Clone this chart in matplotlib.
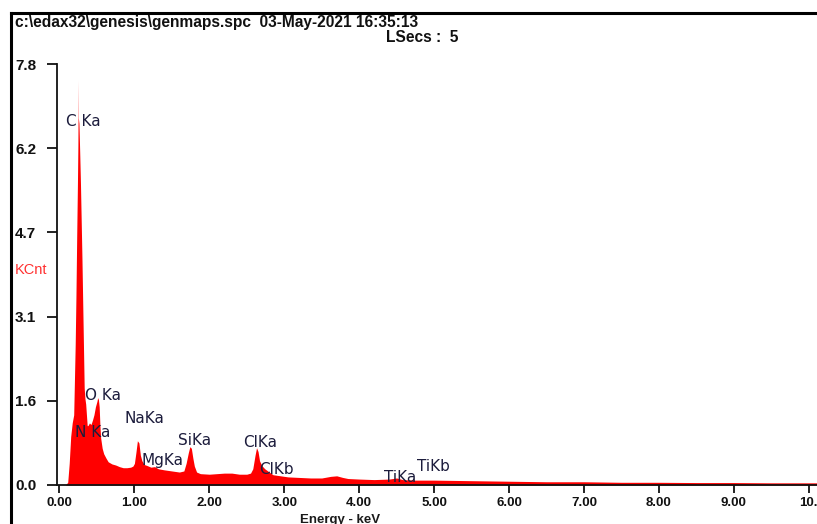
import numpy as np
import matplotlib.pyplot as plt
from matplotlib.lines import Line2D

# espectro EDS (keV, KCnt)
energia = [0.00, 0.08, 0.11, 0.13, 0.15, 0.17, 0.19, 0.21, 0.22, 0.23, 0.24,
           0.246, 0.248, 0.250, 0.252, 0.26, 0.27, 0.28, 0.29, 0.30, 0.31,
           0.32, 0.33, 0.34, 0.35, 0.36, 0.37, 0.38, 0.40, 0.42, 0.44, 0.46,
           0.48, 0.50, 0.51, 0.52, 0.53, 0.54, 0.55, 0.57, 0.59, 0.62, 0.65,
           0.70, 0.75, 0.80, 0.85, 0.90, 0.95, 0.98, 1.00, 1.02, 1.04, 1.06,
           1.08, 1.10, 1.13, 1.17, 1.22, 1.27, 1.32, 1.40, 1.50, 1.60, 1.66,
           1.69, 1.72, 1.74, 1.76, 1.78, 1.80, 1.83, 1.88, 2.00, 2.10, 2.20,
           2.30, 2.40, 2.50, 2.55, 2.58, 2.61, 2.63, 2.65, 2.67, 2.70, 2.74,
           2.80, 2.85, 2.95, 3.05, 3.20, 3.35, 3.50, 3.62, 3.70, 3.78, 3.85,
           4.00, 4.20, 4.40, 4.50, 4.58, 4.75, 5.00, 5.50, 6.00, 6.50, 7.00,
           7.50, 8.00, 8.50, 9.00, 9.50, 10.00, 10.12]
cuentas = [0.0, 0.0, 0.05, 0.4, 0.9, 1.15, 1.3, 2.6, 3.5, 4.6, 5.6,
           6.3, 6.8, 7.5, 6.8, 6.7, 6.17, 5.6, 4.9, 4.2, 3.4,
           2.6, 1.8, 1.6, 1.5, 1.3, 1.1, 1.1, 1.15, 1.12, 1.2, 1.3,
           1.45, 1.55, 1.62, 1.58, 1.45, 1.1, 0.87, 0.68, 0.58, 0.5, 0.43,
           0.39, 0.37, 0.34, 0.32, 0.32, 0.33, 0.35, 0.40, 0.6, 0.82, 0.78,
           0.55, 0.45, 0.38, 0.36, 0.33, 0.34, 0.30, 0.28, 0.26, 0.24, 0.26,
           0.40, 0.60, 0.71, 0.68, 0.50, 0.35, 0.24, 0.21, 0.20, 0.21, 0.22,
           0.22, 0.20, 0.20, 0.22, 0.30, 0.55, 0.69, 0.62, 0.45, 0.36, 0.30,
           0.24, 0.19, 0.17, 0.15, 0.14, 0.13, 0.13, 0.16, 0.17, 0.14, 0.12,
           0.11, 0.10, 0.11, 0.13, 0.10, 0.09, 0.09, 0.08, 0.07, 0.06, 0.06,
           0.05, 0.05, 0.045, 0.045, 0.04, 0.04, 0.04]

# etiquetas de picos: (texto, energia, cuentas)
picos = [('C Ka', 0.09, 6.74), ('O Ka', 0.34, 1.65), ('N Ka', 0.21, 0.98),
         ('NaKa', 0.87, 1.23), ('MgKa', 1.10, 0.46), ('SiKa', 1.58, 0.82),
         ('ClKa', 2.45, 0.78), ('ClKb', 2.66, 0.28), ('TiKa', 4.33, 0.13),
         ('TiKb', 4.77, 0.35)]

yticks = [0.0, 1.56, 3.12, 4.68, 6.24, 7.8]
ytick_labels = ['0.0', '1.6', '3.1', '4.7', '6.2', '7.8']
xticks = [0, 1, 2, 3, 4, 5, 6, 7, 8, 9, 10]
xtick_labels = ['0.00', '1.00', '2.00', '3.00', '4.00', '5.00', '6.00',
                '7.00', '8.00', '9.00', '10.']

plt.rcParams['font.family'] = ['Liberation Sans', 'DejaVu Sans']

fig = plt.figure(figsize=(8.17, 5.24), dpi=100)
W, H = 817, 524
ax = fig.add_axes([57 / W, 1 - 485 / H, (W - 57) / W, (485 - 64) / H])

ax.fill_between(energia, cuentas, 0, color='#ff0000', linewidth=0)
ax.set_xlim(-0.033, 10.11)
ax.set_ylim(0, 7.8)

for s in ['top', 'right']:
    ax.spines[s].set_visible(False)
for s in ['left', 'bottom']:
    ax.spines[s].set_color('#111111')
    ax.spines[s].set_linewidth(1.3)

ax.set_yticks(yticks)
ax.set_yticklabels(ytick_labels, fontweight='bold', fontsize=11, color='#1a1a1a')
ax.set_xticks(xticks)
ax.set_xticklabels(xtick_labels, fontweight='bold', fontsize=9.5, color='#1a1a1a')
ax.tick_params(axis='y', direction='out', length=7, width=1.3, pad=8, colors='#111111')
ax.tick_params(axis='x', direction='out', length=6, width=1.3, pad=3, colors='#111111')

for texto, e, c in picos:
    ax.text(e, c, texto, fontsize=11, color='#1c1c3c', va='center', ha='left',
            family=['DejaVu Sans'])

ax.set_xlabel('Energy - keV', fontsize=9.5, fontweight='bold', color='#1a1a1a')
ax.xaxis.set_label_coords((340 - 57) / (W - 57), -0.068)

fig.text(15 / W, 1 - 270 / H, 'KCnt', color='#ff3030', fontsize=10.5, va='center', ha='left')

# encabezado
fig.text(15 / W, 1 - 22 / H, 'c:\\edax32\\genesis\\genmaps.spc  03-May-2021 16:35:13',
         fontsize=11.2, fontweight='bold', va='center', ha='left', color='#111111')
fig.text(458 / W, 1 - 37 / H, 'LSecs :  5', fontsize=11.2, fontweight='bold',
         va='center', ha='right', color='#111111')

# marco
fig.add_artist(Line2D([11 / W, 1], [1 - 13 / H, 1 - 13 / H], color='black', linewidth=2.2,
                      transform=fig.transFigure))
fig.add_artist(Line2D([11 / W, 11 / W], [0, 1 - 13 / H], color='black', linewidth=2.2,
                      transform=fig.transFigure))

fig.savefig('out.png', dpi=100)
